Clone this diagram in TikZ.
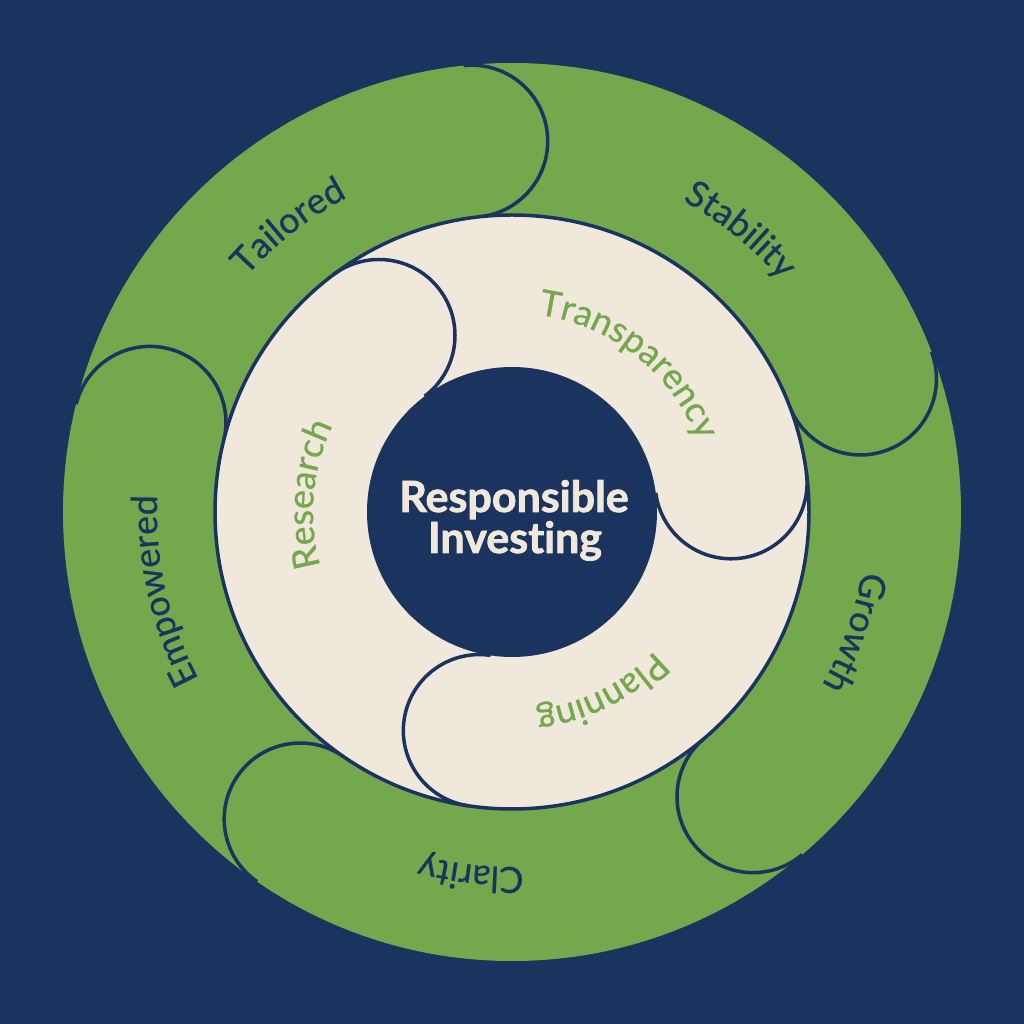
\documentclass[tikz,border=0pt]{standalone}
\usepackage{fontspec}
\setmainfont{Lato}[Ligatures=NoCommon]
\newfontfamily\labelfont{Lato}[Ligatures=NoCommon, FakeBold=0.6]
\newfontfamily\titlefont{Lato}[Ligatures=NoCommon, BoldFeatures={FakeBold=1.8}]
\usetikzlibrary{decorations.text}
\definecolor{navy}{HTML}{1B335F}
\definecolor{leaf}{HTML}{73A84C}
\definecolor{cream}{HTML}{F0E8DA}
\newcommand\arclabel[5]{%
  \path[decorate, decoration={text along path, text align=center, text color=#3,
        text={|\labelfont\fontsize{#4}{#4}\selectfont|#5}}]
    (#2+70:#1) arc[start angle=#2+70, end angle=#2-70, radius=#1];}
\begin{document}
\begin{tikzpicture}[x=1pt,y=1pt,
  capline/.style={draw=navy, line width=3.5pt},
  ringedge/.style={draw=navy, line width=3.5pt},
  titletext/.style={anchor=base, text=cream, font=\titlefont\bfseries\fontsize{43}{43}\selectfont}]
\fill[navy] (-512,-512) rectangle (512,512);
\useasboundingbox (-512,-512) rectangle (512,512);
% outer green ring
\fill[leaf] (0,0) circle[radius=449];
\foreach \a in {96.2,20.9,-49.75,-124.6,166.1}
  \draw[capline] (\a:373) ++(\a:76) arc[start angle=\a, end angle=\a-180, radius=76];
% inner cream ring
\filldraw[fill=cream, ringedge] (0,0) circle[radius=297];
\foreach \a in {127,7.6,-98.5}
  \draw[capline] (\a:221) ++(\a:76) arc[start angle=\a, end angle=\a-180, radius=76];
% centre disc
\fill[navy] (0,0) circle[radius=145];
\node[titletext] (t1) at (2,0) {Responsible};
\node[titletext] (t2) at (3,-41) {Investing};
% outer labels
\arclabel{355}{128}{navy}{36}{Tailored}
\arclabel{355}{51}{navy}{36}{Stability}
\arclabel{355}{-19.4}{navy}{36}{Growth}
\arclabel{355}{-96.5}{navy}{36}{Clarity}
\arclabel{355}{-167.3}{navy}{36}{Empowered}
% inner labels
\arclabel{199}{175}{leaf}{36}{Research}
\arclabel{199}{51.7}{leaf}{36}{Transparency}
\arclabel{199}{-63.7}{leaf}{36}{Planning}
\end{tikzpicture}
\end{document}
